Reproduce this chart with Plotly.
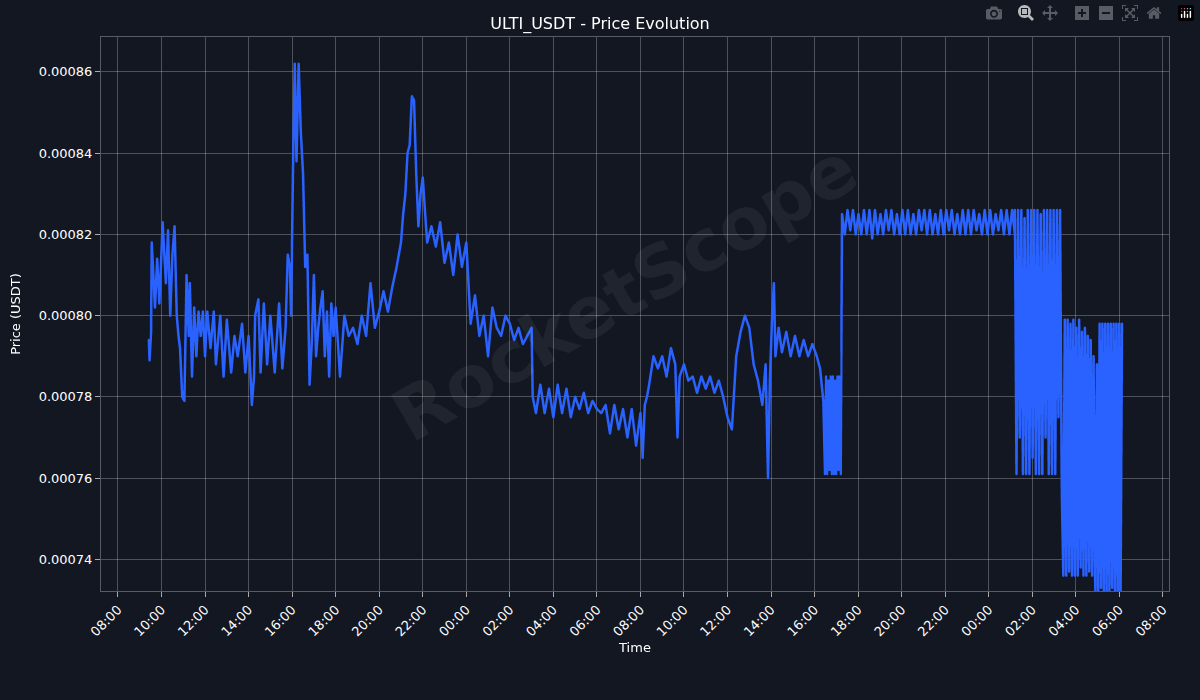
import pandas as pd
import plotly.graph_objects as go

BASE = pd.Timestamp("2024-01-01")

# main trace: hours since 00:00 of day 1, price in USDT
hours = [9.42, 9.45, 9.52, 9.55, 9.7, 9.8, 9.9, 10.0, 10.05, 10.2, 10.3, 10.4, 10.5, 10.6, 10.7, 10.78,
         10.85, 10.95, 11.05, 11.15, 11.25, 11.3, 11.4, 11.5, 11.6, 11.7, 11.8, 11.9, 12.0, 12.1, 12.25,
         12.4, 12.5, 12.7, 12.85, 13.0, 13.2, 13.35, 13.5, 13.7, 13.85, 14.0, 14.15, 14.25, 14.3, 14.45,
         14.55, 14.7, 14.85, 15.0, 15.2, 15.4, 15.55, 15.7, 15.8, 15.9, 15.95, 16.05, 16.12, 16.2, 16.3,
         16.4, 16.5, 16.6, 16.7, 16.8, 16.9, 17.0, 17.1, 17.2, 17.3, 17.4, 17.5, 17.6, 17.7, 17.8, 17.9,
         18.0, 18.2, 18.4, 18.6, 18.8, 19.0, 19.2, 19.4, 19.6, 19.8, 20.0, 20.2, 20.4, 20.6, 20.8, 21.0,
         21.1, 21.2, 21.3, 21.4, 21.5, 21.6, 21.7, 21.8, 21.9, 22.0, 22.2, 22.4, 22.6, 22.8, 23.0, 23.2,
         23.4, 23.6, 23.8, 24.0, 24.2, 24.4, 24.6, 24.8, 25.0, 25.2, 25.4, 25.6, 25.8, 26.0, 26.2, 26.4,
         26.6, 26.8, 27.0, 27.05, 27.2, 27.4, 27.6, 27.8, 28.0, 28.2, 28.4, 28.6, 28.8, 29.0, 29.2, 29.4,
         29.6, 29.8, 30.0, 30.2, 30.4, 30.6, 30.8, 31.0, 31.2, 31.4, 31.6, 31.8, 32.0, 32.1, 32.2, 32.3,
         32.4, 32.6, 32.8, 33.0, 33.2, 33.4, 33.6, 33.7, 33.8, 34.0, 34.2, 34.4, 34.6, 34.8, 35.0, 35.2,
         35.4, 35.6, 35.8, 36.0, 36.2, 36.4, 36.6, 36.8, 37.0, 37.2, 37.4, 37.6, 37.75, 37.86, 37.95,
         38.05, 38.13, 38.2, 38.35, 38.5, 38.7, 38.9, 39.1, 39.3, 39.5, 39.7, 39.9, 40.1, 40.25, 40.4]
prices = [0.000794, 0.000789, 0.000796, 0.000818, 0.000802, 0.000814, 0.000803, 0.000816, 0.000823, 0.000808,
          0.000821, 0.000800, 0.000815, 0.000822, 0.000800, 0.000795, 0.000792, 0.000780, 0.000779, 0.000810,
          0.000795, 0.000808, 0.000785, 0.000802, 0.000790, 0.000801, 0.000795, 0.000801, 0.000790, 0.000801,
          0.000792, 0.000801, 0.000788, 0.000800, 0.000785, 0.000799, 0.000786, 0.000795, 0.000790, 0.000798,
          0.000786, 0.000795, 0.000778, 0.000785, 0.000800, 0.000804, 0.000786, 0.000803, 0.000788, 0.000800,
          0.000786, 0.000803, 0.000787, 0.000797, 0.000815, 0.000812, 0.000800, 0.000840, 0.000862, 0.000838,
          0.000862, 0.000845, 0.000835, 0.000812, 0.000815, 0.000783, 0.000793, 0.000810, 0.000790, 0.000797,
          0.000802, 0.000806, 0.000790, 0.000801, 0.000785, 0.000803, 0.000795, 0.000802, 0.000785, 0.000800,
          0.000795, 0.000797, 0.000793, 0.000800, 0.000795, 0.000808, 0.000797, 0.000801, 0.000806, 0.000801,
          0.000807, 0.000812, 0.000818, 0.000825, 0.000830, 0.000840, 0.000842, 0.000854, 0.000853, 0.000835,
          0.000822, 0.000830, 0.000834, 0.000818, 0.000822, 0.000817, 0.000823, 0.000813, 0.000818, 0.000810,
          0.000820, 0.000812, 0.000818, 0.000798, 0.000805, 0.000795, 0.000800, 0.000790, 0.000802, 0.000797,
          0.000795, 0.000800, 0.000798, 0.000794, 0.000797, 0.000793, 0.000795, 0.000797, 0.000780, 0.000776,
          0.000783, 0.000776, 0.000782, 0.000775, 0.000783, 0.000776, 0.000782, 0.000775, 0.000780, 0.000777,
          0.000781, 0.000776, 0.000779, 0.000777, 0.000776, 0.000778, 0.000771, 0.000778, 0.000772, 0.000777,
          0.000770, 0.000777, 0.000768, 0.000776, 0.000765, 0.000778, 0.000780, 0.000783, 0.000790, 0.000787,
          0.000790, 0.000785, 0.000792, 0.000788, 0.000770, 0.000785, 0.000788, 0.000784, 0.000785, 0.000781,
          0.000785, 0.000782, 0.000785, 0.000781, 0.000784, 0.000780, 0.000775, 0.000772, 0.000790, 0.000796,
          0.000800, 0.000797, 0.000788, 0.000784, 0.000778, 0.000788, 0.000760, 0.000785, 0.000800, 0.000808,
          0.000790, 0.000797, 0.000791, 0.000796, 0.000790, 0.000795, 0.000790, 0.000794, 0.000790, 0.000793,
          0.000790, 0.000787, 0.000779]

# fast-swinging stretches: (start hour, end hour, ticks)
band_a = (40.48, 41.2, [0.000761, 0.000785, 0.000761, 0.000784, 0.000762, 0.000785, 0.000761, 0.000785,
                        0.000761, 0.000784, 0.000761, 0.000785, 0.000762, 0.000785, 0.000761])
band_b = (41.26, 49.2, [0.000825, 0.000820, 0.000826, 0.000821, 0.000826, 0.000820, 0.000825, 0.000820,
                        0.000826, 0.000820, 0.000826, 0.000819, 0.000826, 0.000820, 0.000825, 0.000820,
                        0.000826, 0.000821, 0.000826, 0.000820, 0.000825, 0.000820, 0.000826, 0.000820,
                        0.000826, 0.000820, 0.000825, 0.000820, 0.000826, 0.000821, 0.000826, 0.000820,
                        0.000826, 0.000820, 0.000825, 0.000820, 0.000826, 0.000820, 0.000826, 0.000821,
                        0.000826, 0.000820, 0.000825, 0.000820, 0.000826, 0.000820, 0.000826, 0.000820,
                        0.000826, 0.000821, 0.000825, 0.000820, 0.000826, 0.000820, 0.000826, 0.000820,
                        0.000825, 0.000821, 0.000826, 0.000820, 0.000826, 0.000820, 0.000826, 0.000820])
band_c = (49.2, 51.35, [0.000826, 0.000761, 0.000826, 0.000770, 0.000826, 0.000761, 0.000824, 0.000761,
                        0.000826, 0.000761, 0.000826, 0.000765, 0.000826, 0.000761, 0.000826, 0.000761,
                        0.000825, 0.000761, 0.000826, 0.000770, 0.000826, 0.000761, 0.000826, 0.000761,
                        0.000826, 0.000761, 0.000826, 0.000775, 0.000826, 0.000761])
band_d = (51.36, 52.88, [0.000755, 0.000736, 0.000799, 0.000736, 0.000799, 0.000737, 0.000798, 0.000736,
                         0.000799, 0.000736, 0.000797, 0.000736, 0.000799, 0.000738, 0.000796, 0.000736,
                         0.000797, 0.000736, 0.000795, 0.000737, 0.000794, 0.000736, 0.000790, 0.000736])
band_e = (52.9, 54.12, [0.000732, 0.000788, 0.000732, 0.000798, 0.000733, 0.000798, 0.000732, 0.000798,
                        0.000732, 0.000798, 0.000732, 0.000798, 0.000733, 0.000798, 0.000732, 0.000798,
                        0.000732, 0.000798, 0.000732, 0.000798])

t = [BASE + pd.Timedelta(hours=h) for h in hours]
p = list(prices)
for start, end, vals in [band_a, band_b, band_c, band_d, band_e]:
    t += list(pd.date_range(BASE + pd.Timedelta(hours=start), BASE + pd.Timedelta(hours=end), periods=len(vals)))
    p += vals

BG = "#131722"
fig = go.Figure()
fig.add_trace(go.Scattergl(x=t, y=p, mode="lines", line=dict(color="#2962ff", width=2.5)))

fig.add_annotation(text="<b>RocketScope</b>", xref="paper", yref="paper", x=0.49, y=0.54,
                   showarrow=False, textangle=-30, font=dict(size=72, color="rgba(255,255,255,0.06)"))

axis = dict(showgrid=True, gridcolor="rgba(255,255,255,0.25)", gridwidth=1, zeroline=False,
            showline=True, mirror=True, linecolor="#555a66", ticks="outside", tickcolor="#aaaaaa",
            tickfont=dict(color="#ffffff", size=13), title_font=dict(color="#ffffff", size=13))
fig.update_xaxes(**axis, title_text="Time", type="date", dtick=2 * 3600 * 1000, tickformat="%H:%M",
                 tick0=BASE, tickangle=-45, title_standoff=4,
                 range=[BASE + pd.Timedelta(hours=7.22), BASE + pd.Timedelta(hours=56.28)])
fig.update_yaxes(**axis, title_text="Price (USDT)", tickformat=".5f", dtick=0.00002,
                 range=[0.0007322, 0.0008686])
fig.update_layout(width=1200, height=700, paper_bgcolor=BG, plot_bgcolor=BG, showlegend=False,
                  margin=dict(l=101, r=31, t=37, b=109),
                  font=dict(family="DejaVu Sans", color="#ffffff"),
                  title=dict(text="ULTI_USDT - Price Evolution", x=0.5, y=0.975, xanchor="center",
                             font=dict(size=16, color="#ffffff")))
fig.write_html("out.html",
               post_script="document.body.style.margin='0';document.body.style.background='%s';" % BG)
